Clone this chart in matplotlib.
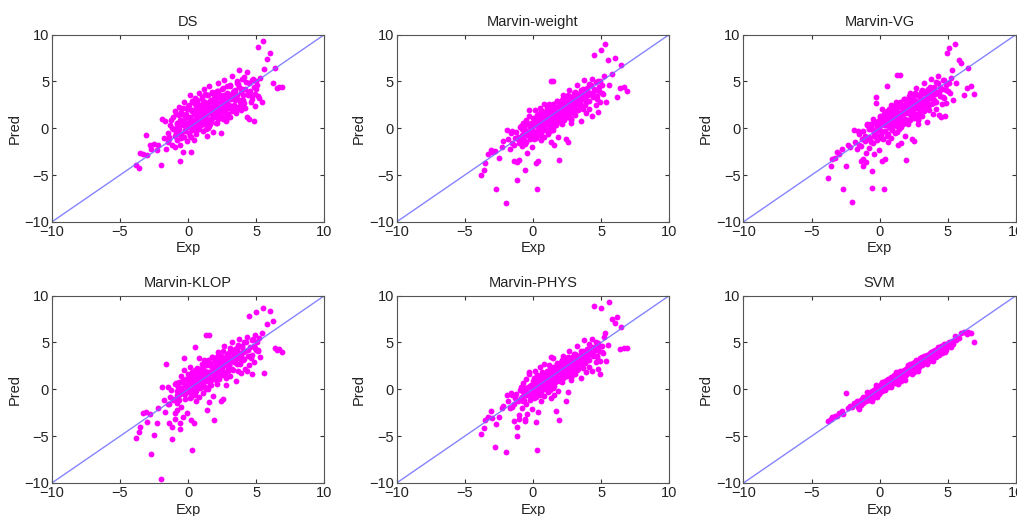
import matplotlib
matplotlib.use('Agg')
import matplotlib.pyplot as plt

plt.rcParams['font.family'] = ['Liberation Sans', 'DejaVu Sans']

titles = ['DS', 'Marvin-weight', 'Marvin-VG', 'Marvin-KLOP', 'Marvin-PHYS', 'SVM']
ticks = [-10, -5, 0, 5, 10]

# experimental values (shared by all methods)
exp = [
    -3.8, -3.6, -3.5, -3.3, -3.1, -3.0, -2.8, -2.7, -2.5, -2.3, -2.2, -2.0, -1.9,
    -1.8, -1.7, -1.6, -1.5, -1.4, -1.3, -1.2, -1.1, -1.0, -1.0, -1.2, -1.5,
    -0.9, -0.9, -0.8, -0.8, -0.7, -0.7, -0.6, -0.6, -0.5, -0.5, -0.4, -0.4, -0.3, -0.3,
    -0.2, -0.2, -0.1, -0.1, -0.05, -0.6, -0.3, -0.8,
    0.0, 0.05, 0.1, 0.1, 0.15, 0.2, 0.2, 0.25, 0.3, 0.3, 0.35, 0.4, 0.4, 0.5, 0.5,
    0.55, 0.6, 0.6, 0.7, 0.7, 0.75, 0.8, 0.8, 0.9, 0.9, 0.95,
    1.0, 1.05, 1.1, 1.15, 1.2, 1.25, 1.3, 1.3, 1.35, 1.4, 1.45, 1.5, 1.5, 1.55, 1.6,
    1.65, 1.7, 1.7, 1.75, 1.8, 1.85, 1.9, 1.9, 1.95, 1.45, 1.2,
    2.0, 2.05, 2.1, 2.15, 2.2, 2.25, 2.3, 2.35, 2.4, 2.45, 2.5, 2.55, 2.6, 2.65, 2.7,
    2.75, 2.8, 2.85, 2.9, 2.95, 2.3, 2.6, 2.1, 2.8,
    3.0, 3.05, 3.1, 3.2, 3.25, 3.3, 3.4, 3.45, 3.5, 3.55, 3.6, 3.65, 3.7, 3.75, 3.8,
    3.85, 3.9, 3.95, 3.3, 3.6,
    4.0, 4.1, 4.15, 4.2, 4.3, 4.35, 4.4, 4.45, 4.5, 4.6, 4.65, 4.7, 4.8, 4.85, 4.9, 4.95,
    5.0, 5.1, 5.2, 5.3, 5.4, 5.5, 5.6, 5.8, 6.0, 6.2, 6.4, 6.5, 6.7, 6.9,
    # core of the cloud
    -1.4, -1.25, -1.1, -0.95, -0.85, -0.75, -0.65, -0.55, -0.45, -0.35,
    -0.25, -0.15, -0.05, 0.02, 0.08, 0.12, 0.18, 0.22, 0.28, 0.33,
    0.38, 0.42, 0.48, 0.52, 0.58, 0.63, 0.68, 0.72, 0.78, 0.83,
    0.88, 0.92, 0.98, 1.02, 1.08, 1.12, 1.18, 1.22, 1.28, 1.33,
    1.38, 1.42, 1.48, 1.52, 1.58, 1.62, 1.68, 1.72, 1.78, 1.82,
    1.88, 1.92, 1.98, 2.02, 2.08, 2.12, 2.18, 2.22, 2.28, 2.32,
    2.38, 2.42, 2.48, 2.52, 2.58, 2.62, 2.68, 2.72, 2.78, 2.82,
    2.88, 2.92, 2.98, 3.02, 3.08, 3.15, 3.22, 3.28, 3.35, 3.42,
    3.48, 3.58, 3.68, 3.78, 3.88, 3.98, 4.05, 4.12, 4.25, 4.38,
    4.55, 4.68, 4.75, 4.88, 5.05, 5.15, 0.5, 1.5, 2.5, 3.5,
    -0.5, 0.0, 1.0, 2.0, 3.0, 4.0, 0.25, 1.25, 2.25, 3.25,
]

pred_ds = [
    -3.9, -4.3, -2.6, -2.7, -0.7, -2.9, -1.8, -2.2, -1.7, -2.3, -1.8, -3.9, 1.0,
    -1.0, 0.8, -2.2, -0.5, -1.2, 0.3, -1.8, 1.2, -0.8, -2.0, 0.0, -1.5,
    -0.5, 1.5, -1.3, 0.4, 2.3, -0.1, 0.9, -1.8, 1.7, -0.6, 0.3, -2.5, 2.8, -0.9,
    1.1, -0.3, 0.6, 2.0, -1.4, -3.5, 1.4, 0.0,
    0.3, 2.5, -0.8, 1.2, 3.6, -2.5, 0.7, 1.9, -0.2, 2.9, 0.9, -1.3, 1.5, 0.1, 3.2,
    2.2, -0.6, 1.0, 0.4, 2.6, 1.7, -0.1, 3.8, 1.3, 0.6, 2.0,
    1.1, 3.1, -0.3, 2.0, 4.2, 0.5, 2.7, 1.4, -0.8, 3.6, 1.8, 0.2, 2.4, 4.5, 1.0,
    3.0, 0.7, 2.1, 3.8, 1.5, -0.4, 2.8, 1.2, 3.4, 0.0, 2.3,
    2.0, 3.9, 0.6, 2.8, 4.8, 1.3, 3.3, 2.2, -0.5, 4.2, 2.6, 1.0, 3.6, 5.1, 1.8,
    3.0, 0.8, 4.5, 2.4, 3.7, 1.6, 2.9, 4.0, 1.2,
    2.5, 4.6, 1.2, 3.4, 5.6, 2.0, 4.0, 3.0, 1.6, 5.0, 3.6, 2.3, 4.4, 6.2, 2.8,
    3.9, 1.9, 5.3, 3.2, 4.8,
    3.0, 5.5, 2.2, 4.2, 6.0, 1.2, 3.6, 4.8, 1.0, 2.8, 5.2, 3.4, 0.8, 4.4, 2.4, 5.0,
    4.2, 8.7, 3.2, 5.4, 2.8, 9.3, 6.3, 7.4, 8.0, 4.8, 6.4, 4.3, 4.4, 4.4,
    -0.9, 0.9, -0.1, 1.8, 0.6, -0.6, 1.4, -1.0, 0.8, 2.2,
    -0.2, 1.5, 0.4, 2.4, -0.5, 1.0, 1.9, -0.9, 0.7, 2.8,
    0.2, 1.7, 0.9, 2.6, -0.3, 1.3, 3.0, 0.5, 2.0, 1.1,
    2.3, 0.3, 1.6, 3.3, 0.8, 2.7, 1.2, 3.7, -0.1, 1.9,
    2.5, 0.9, 3.5, 1.6, 0.4, 2.9, 2.0, 1.1, 3.9, 2.4,
    1.3, 3.2, 2.5, 0.6, 2.9, 1.8, 4.0, 1.0, 2.3, 3.5,
    2.0, 3.4, 1.2, 2.8, 4.3, 1.7, 3.0, 2.4, 0.9, 3.8,
    2.7, 1.5, 3.6, 2.2, 4.5, 3.1, 1.8, 3.9, 2.5, 4.1,
    3.3, 2.1, 4.7, 3.0, 2.5, 4.2, 3.6, 2.7, 4.9, 3.8,
    4.0, 3.1, 5.3, 3.7, 4.6, 3.4, 1.5, 2.2, 3.1, 3.5,
    0.5, 0.1, 0.6, 1.6, 3.3, 2.2, 1.8, 2.8, 1.4, 2.0,
]

pred_weight = [
    -5.0, -4.5, -3.7, -2.7, -2.3, -2.5, -2.4, -6.5, -3.2, -2.0, -1.4, -8.0, -0.2,
    -1.2, -2.2, -0.5, -1.6, -3.5, -1.0, -5.5, -0.9, -3.4, -1.6, -3.6, -0.3,
    -1.4, 0.2, -0.7, -1.9, 0.6, -1.1, -0.2, -4.5, 0.9, -1.5, -0.4, -2.6, 1.3, -0.8,
    0.1, -1.2, 0.4, -0.3, -2.0, -1.7, 1.9, -0.1,
    -0.3, 1.0, -1.1, 0.4, 1.9, -3.7, -0.5, 0.8, -6.5, 1.4, 0.2, -3.5, 0.6, -0.7, 2.2,
    1.1, -1.3, 0.3, 0.0, 1.6, 0.9, -0.9, 2.6, 0.5, -0.2, 1.2,
    0.4, 1.8, -0.6, 1.2, 2.6, 0.1, 5.0, 0.9, -1.5, 2.2, 1.0, 5.0, 1.5, -1.8, 0.6,
    2.0, 0.3, 1.3, 2.9, 0.8, -0.9, 1.7, -3.4, 2.4, -0.2, 1.4,
    1.5, 2.9, 0.4, 2.2, 3.6, 0.9, 2.6, 1.7, -1.1, 3.1, 2.0, -1.5, 2.8, 4.1, 1.2,
    2.4, 0.6, 3.3, 1.9, 2.7, 1.3, 2.3, 3.0, 0.9,
    2.4, 3.8, 1.4, 3.0, 4.6, 1.9, 3.4, 2.7, 0.8, 4.1, 3.1, 2.0, 3.6, 5.2, 2.5,
    3.3, 1.6, 4.3, 2.9, 3.9,
    2.9, 4.7, 2.0, 3.8, 5.3, 1.3, 3.3, 4.2, 7.8, 2.5, 4.9, 3.1, 1.7, 4.4, 2.8, 5.0,
    8.4, 3.8, 5.6, 9.0, 2.8, 7.3, 4.6, 5.8, 7.5, 3.3, 4.3, 6.8, 4.4, 4.0,
    -1.8, -0.4, -1.2, 0.1, -0.9, -0.2, -1.3, 0.3, -0.7, 0.5,
    -0.8, 0.6, -0.3, 1.1, -0.6, 0.3, 0.9, -1.0, 0.5, 1.3,
    -0.2, 1.1, 0.4, 1.6, -0.5, 0.8, 1.8, 0.1, 1.3, 0.6,
    1.6, -0.1, 1.0, 2.2, 0.4, 1.9, 0.7, 2.4, -0.3, 1.3,
    2.1, 0.6, 2.6, 1.2, 0.2, 2.3, 1.5, 0.8, 2.9, 1.9,
    1.1, 2.7, 2.0, 0.7, 2.5, 1.5, 3.2, 1.0, 2.2, 2.9,
    1.8, 3.1, 1.2, 2.6, 3.6, 1.6, 2.8, 2.3, 1.0, 3.3,
    2.6, 1.7, 3.4, 2.2, 3.9, 2.9, 1.9, 3.6, 2.5, 3.8,
    3.3, 2.4, 4.2, 3.1, 2.8, 4.0, 3.6, 2.9, 4.6, 3.8,
    4.1, 3.4, 5.0, 4.0, 4.6, 3.7, 0.6, 1.4, 2.3, 3.1,
    -0.3, 0.2, 1.2, 1.9, 2.9, 3.6, 0.8, 1.6, 2.0, 2.7,
]

pred_vg = [
    -5.3, -4.0, -3.3, -3.2, -2.5, -2.8, -2.2, -6.5, -4.0, -1.8, -2.0, -7.9, -0.2,
    -1.5, -2.2, -0.3, -1.8, -3.5, -1.1, -4.0, -0.8, -3.6, -2.6, -3.3, -0.6,
    -1.2, 0.4, -0.9, -2.1, 0.5, -1.3, -0.1, -6.4, 1.0, -1.6, -0.5, -2.8, 2.7, -0.7,
    0.2, -1.3, 0.6, -0.2, -2.3, -4.6, 3.3, 0.0,
    -0.2, 1.2, -1.0, 0.5, 2.1, -3.5, -0.4, 0.9, -6.5, 1.5, 0.3, -3.3, 0.7, -0.8, 4.5,
    1.2, -1.5, 0.4, 0.1, 1.8, 1.0, -1.0, 2.5, 0.6, -0.1, 1.3,
    0.6, 2.0, -0.5, 1.4, 2.8, 0.2, 5.7, 1.0, -1.8, 2.4, 1.1, 5.7, 1.6, -1.6, 0.7,
    2.2, 0.4, 1.5, 3.1, 0.9, -0.8, 1.9, -3.4, 2.6, -0.1, 1.6,
    1.6, 3.0, 0.5, 2.3, 3.8, 1.0, 2.7, 1.8, -1.2, 3.2, 2.1, -1.4, 2.9, 4.3, 1.3,
    2.5, 0.4, 3.4, 2.0, 2.8, 1.4, 2.4, 3.1, 1.0,
    2.5, 3.9, 1.3, 3.1, 4.8, 2.0, 3.5, 2.8, 0.7, 4.2, 3.2, 1.9, 3.7, 5.3, 2.6,
    3.4, 1.5, 4.4, 3.0, 4.0,
    3.0, 4.9, 2.1, 3.9, 5.6, 1.4, 3.4, 4.4, 1.2, 2.6, 5.2, 3.2, 1.3, 4.6, 2.7, 8.0,
    4.0, 8.6, 5.4, 6.2, 3.0, 9.0, 4.8, 7.3, 7.0, 3.5, 4.3, 6.4, 4.5, 3.7,
    -1.9, -0.3, -1.4, 0.3, -1.0, -0.1, -1.5, 0.4, -0.8, 0.7,
    -0.9, 0.8, -0.2, 1.3, -0.7, 0.4, 1.1, -1.2, 0.6, 1.5,
    -0.3, 1.3, 0.3, 1.8, -0.6, 0.9, 2.0, 0.0, 1.5, 0.7,
    1.8, -0.2, 1.1, 2.4, 0.3, 2.1, 0.8, 2.6, -0.4, 1.4,
    2.3, 0.5, 2.8, 1.3, 0.1, 2.5, 1.6, 0.7, 3.1, 2.0,
    1.0, 2.9, 2.1, 0.6, 2.7, 1.6, 3.4, 0.9, 2.3, 3.1,
    1.7, 3.3, 1.1, 2.7, 3.8, 1.5, 2.9, 2.4, 0.9, 3.5,
    2.7, 1.6, 3.6, 2.3, 4.1, 3.0, 1.8, 3.8, 2.6, 4.0,
    3.4, 2.3, 4.4, 3.2, 2.7, 4.2, 3.7, 2.8, 4.8, 3.9,
    4.2, 3.3, 5.2, 4.1, 4.8, 3.8, 0.7, 1.5, 2.4, 3.2,
    -0.2, 0.3, 1.3, 2.0, 3.0, 3.7, 0.9, 1.7, 2.1, 2.8,
]

pred_klop = [
    -5.2, -4.6, -4.0, -2.5, -2.4, -3.5, -2.6, -6.9, -4.9, -3.6, -2.0, -9.6, 0.3,
    -1.1, -2.4, 2.7, -1.6, -3.6, -0.8, -5.3, -1.1, -3.2, -2.5, -4.0, 0.2,
    -1.0, 0.7, -1.5, -2.2, 0.8, -0.6, 0.1, -4.2, 1.4, -1.9, -0.2, -3.0, 3.3, -0.5,
    0.5, -1.0, 1.0, 0.2, -2.5, -3.6, 2.1, -0.2,
    0.0, 1.5, -0.9, 0.8, 2.4, -3.3, -0.3, 1.2, -6.5, 1.9, 0.5, -3.6, 1.0, -0.6, 4.5,
    1.6, -1.3, 0.7, 0.3, 2.2, 1.3, -0.8, 3.3, 0.9, 0.1, 1.7,
    0.8, 2.3, -0.4, 1.6, 3.1, 0.3, 5.8, 1.2, -2.2, 2.7, 1.3, 5.8, 1.9, -1.4, 0.9,
    2.5, 0.5, 1.7, 3.4, 1.1, -0.7, 2.2, -3.3, 2.9, 0.0, 1.8,
    1.8, 3.3, 0.6, 2.5, 4.0, 1.1, 2.9, 2.0, -1.3, 3.5, 2.3, -1.0, 3.1, 4.6, 1.5,
    2.7, 0.5, 3.7, 2.2, 3.0, 1.6, 2.6, 3.4, 1.2,
    2.6, 4.1, 1.4, 3.2, 5.0, 2.1, 3.7, 2.9, 0.9, 4.4, 3.3, 2.0, 3.9, 5.4, 2.7,
    3.6, 1.7, 4.6, 3.1, 4.2,
    3.1, 5.0, 2.2, 4.1, 5.6, 2.0, 3.6, 7.8, 2.6, 3.3, 5.3, 1.6, 4.6, 2.9, 5.8, 4.2,
    8.3, 4.2, 5.5, 3.4, 6.0, 8.7, 1.7, 7.0, 8.4, 7.3, 4.4, 4.2, 4.3, 4.0,
    -1.6, -0.1, -1.0, 0.6, -0.6, 0.2, -1.1, 0.8, -0.4, 1.0,
    -0.5, 1.1, 0.1, 1.6, -0.3, 0.7, 1.4, -0.8, 0.9, 1.8,
    0.1, 1.6, 0.7, 2.1, -0.2, 1.2, 2.3, 0.4, 1.8, 1.0,
    2.1, 0.2, 1.4, 2.7, 0.7, 2.4, 1.1, 2.9, 0.0, 1.7,
    2.6, 0.9, 3.1, 1.6, 0.5, 2.8, 1.9, 1.1, 3.4, 2.3,
    1.4, 3.2, 2.4, 1.0, 3.0, 1.9, 3.7, 1.3, 2.6, 3.4,
    2.1, 3.6, 1.5, 3.0, 4.1, 1.9, 3.2, 2.7, 1.3, 3.8,
    3.0, 2.0, 3.9, 2.6, 4.4, 3.3, 2.2, 4.1, 2.9, 4.3,
    3.7, 2.7, 4.7, 3.5, 3.1, 4.5, 4.0, 3.2, 5.1, 4.2,
    4.5, 3.7, 5.4, 4.4, 5.0, 4.1, 1.0, 1.8, 2.7, 3.5,
    0.1, 0.6, 1.6, 2.3, 3.3, 4.0, 1.2, 2.0, 2.4, 3.1,
]

pred_phys = [
    -4.8, -4.1, -3.3, -3.0, -2.3, -3.1, -6.2, -3.7, -3.0, -2.0, -1.8, -6.7, -0.6,
    -1.3, -2.0, -0.4, -1.9, -3.4, -0.9, -5.0, -1.3, -3.2, -2.7, -4.0, -0.6,
    -1.1, 0.3, -0.8, -2.0, 0.7, -1.2, -0.1, -3.4, 1.1, -1.6, -0.3, -2.6, 1.6, -0.6,
    0.4, -1.1, 0.5, -0.2, -2.1, -3.2, 1.9, 0.1,
    -0.1, 1.2, -0.9, 0.6, 2.0, -3.5, -0.3, 0.9, -6.5, 1.5, 0.3, -2.4, 0.8, -0.6, 2.4,
    1.2, -1.2, 0.5, 0.2, 1.8, 1.0, -0.7, 2.7, 0.7, 0.0, 1.4,
    0.6, 1.9, -0.3, 1.3, 2.6, 0.2, 3.5, 1.0, -0.9, 2.3, 1.2, 3.3, 1.6, -0.6, 0.8,
    2.1, -2.3, 1.4, 2.8, 0.9, -0.2, 1.8, -3.3, 2.4, 0.1, 1.5,
    1.8, 2.9, 0.8, 2.4, 3.6, 1.3, 2.8, 2.0, -1.3, 3.2, 2.3, -0.3, 3.0, 4.1, 1.7,
    2.6, 1.0, 3.4, 2.2, 2.9, 1.6, 2.5, 3.1, 1.3,
    2.6, 3.8, 1.6, 3.1, 4.6, 2.2, 3.5, 2.9, 1.2, 4.1, 3.2, 2.3, 3.7, 5.3, 2.8,
    3.4, 1.9, 4.3, 3.0, 3.9,
    3.2, 4.8, 2.4, 4.0, 5.4, 2.0, 3.6, 4.5, 8.9, 2.9, 5.1, 3.4, 2.2, 4.6, 3.0, 1.6,
    8.7, 4.0, 5.6, 6.0, 3.0, 4.7, 9.3, 7.5, 7.1, 7.7, 4.3, 6.7, 4.4, 4.4,
    -1.6, -0.5, -1.1, -0.1, -0.9, -0.3, -1.1, 0.1, -0.6, 0.3,
    -0.7, 0.5, -0.2, 0.9, -0.5, 0.3, 0.8, -0.8, 0.5, 1.1,
    -0.1, 1.0, 0.4, 1.4, -0.3, 0.8, 1.6, 0.2, 1.2, 0.6,
    1.5, 0.1, 1.0, 2.0, 0.5, 1.8, 0.8, 2.2, -0.1, 1.3,
    2.0, 0.7, 2.4, 1.3, 0.4, 2.2, 1.5, 0.9, 2.7, 1.9,
    1.2, 2.6, 2.0, 0.9, 2.4, 1.6, 3.0, 1.2, 2.2, 2.8,
    1.9, 3.0, 1.4, 2.6, 3.4, 1.8, 2.8, 2.4, 1.3, 3.2,
    2.7, 1.9, 3.3, 2.4, 3.8, 2.9, 2.1, 3.5, 2.7, 3.7,
    3.4, 2.6, 4.1, 3.2, 3.0, 4.0, 3.7, 3.1, 4.5, 3.9,
    4.2, 3.6, 4.9, 4.1, 4.6, 3.9, 0.7, 1.5, 2.4, 3.2,
    -0.3, 0.2, 1.2, 2.0, 3.0, 3.7, 0.8, 1.6, 2.1, 2.7,
]

pred_svm = [
    -3.4, -3.2, -3.0, -2.9, -2.8, -2.5, -2.3, -2.6, -0.4, -2.0, -1.8, -1.9, -1.5,
    -1.6, -1.3, -1.9, -1.2, -1.7, -1.0, -1.5, -0.9, -1.3, -1.1, -0.8, -2.1,
    -0.9, -0.3, -1.1, -0.5, -0.4, -1.0, -0.7, -0.2, -0.9, -0.3, -0.6, -0.1, -0.5, 0.1,
    -0.4, -0.8, 0.2, -0.2, -0.5, -1.3, 0.5, -0.7,
    0.2, -0.3, 0.6, 0.0, 0.4, -0.2, 0.8, 0.3, 0.1, 0.7, 0.5, -0.1, 0.9, 0.3, 1.0,
    0.6, 0.2, 1.1, 0.4, 0.9, 0.7, 0.3, 1.3, 0.6, 1.0, 0.8,
    1.0, 1.5, 0.7, 1.2, 1.8, 0.9, 1.6, 1.1, 0.6, 1.7, 1.3, 2.0, 1.4, 0.9, 1.6,
    1.9, 1.2, 1.7, 2.1, 1.4, 1.0, 1.9, 1.5, 2.2, 1.1, 1.3,
    2.0, 2.4, 1.7, 2.2, 2.7, 1.9, 2.5, 2.1, 1.6, 2.8, 2.3, 1.9, 2.7, 3.1, 2.2,
    2.6, 2.0, 3.0, 2.4, 2.8, 2.1, 2.5, 2.6, 2.3,
    2.8, 3.3, 2.6, 3.1, 3.6, 2.9, 3.4, 3.1, 2.7, 3.7, 3.3, 3.0, 3.6, 4.0, 3.2,
    3.5, 3.0, 3.9, 3.2, 3.5,
    3.6, 4.1, 3.4, 3.9, 4.5, 3.7, 4.2, 4.0, 4.6, 3.9, 4.4, 4.3, 4.0, 4.8, 4.2, 4.7,
    4.6, 5.0, 4.5, 5.2, 4.8, 5.7, 5.3, 5.5, 6.0, 6.1, 5.9, 6.1, 6.0, 5.1,
    -1.1, -1.3, -0.8, -0.9, -0.5, -0.9, -0.3, -0.7, -0.1, -0.5,
    0.1, -0.3, 0.3, -0.1, 0.4, 0.0, 0.5, 0.1, 0.6, 0.2,
    0.7, 0.3, 0.8, 0.4, 1.0, 0.5, 1.0, 0.6, 1.1, 0.7,
    1.2, 0.8, 1.3, 0.9, 1.4, 1.0, 1.5, 1.0, 1.6, 1.1,
    1.7, 1.2, 1.8, 1.3, 1.9, 1.4, 2.0, 1.5, 2.0, 1.6,
    2.1, 1.7, 2.3, 1.8, 2.4, 1.8, 2.5, 2.0, 2.5, 2.1,
    2.6, 2.2, 2.8, 2.3, 2.9, 2.3, 3.0, 2.5, 3.0, 2.5,
    3.1, 2.6, 3.3, 2.7, 3.4, 2.8, 3.5, 3.0, 3.6, 3.1,
    3.7, 3.2, 3.9, 3.4, 4.1, 3.6, 4.2, 3.7, 4.4, 3.9,
    4.5, 4.1, 4.8, 4.4, 4.9, 4.7, 0.4, 1.4, 2.4, 3.2,
    -0.3, 0.1, 1.0, 1.9, 2.8, 3.8, 0.5, 1.2, 2.1, 3.0,
]

preds = [pred_ds, pred_weight, pred_vg, pred_klop, pred_phys, pred_svm]

fig = plt.figure(figsize=(10.17, 5.16), dpi=100)
lefts = [0.051, 0.390, 0.731]
bottoms = [0.570, 0.064]

for i in range(6):
    ax = fig.add_axes([lefts[i % 3], bottoms[i // 3], 0.268, 0.363])
    ax.plot(exp, preds[i], 'o', color='#ff00ff', markersize=4.2, mec='none', zorder=1)
    # diagonal drawn over the points, as in the original
    ax.plot([-10, 10], [-10, 10], color='#6f6fff', lw=1, alpha=0.85, zorder=2)
    ax.set_xlim(-10, 10)
    ax.set_ylim(-10, 10)
    ax.set_xticks(ticks)
    ax.set_yticks(ticks)
    ax.tick_params(direction='in', top=True, right=True, length=3, pad=2,
                   labelsize=10.5, colors='#333333', labelcolor='#222222')
    for s in ax.spines.values():
        s.set_color('#555555')
    ax.set_title(titles[i], fontsize=10.5, pad=6, color='#222222')
    ax.set_xlabel('Exp', fontsize=10.5, labelpad=2, color='#222222')
    ax.set_ylabel('Pred', fontsize=10.5, labelpad=2, color='#222222')

fig.savefig('out.png', dpi=100)
